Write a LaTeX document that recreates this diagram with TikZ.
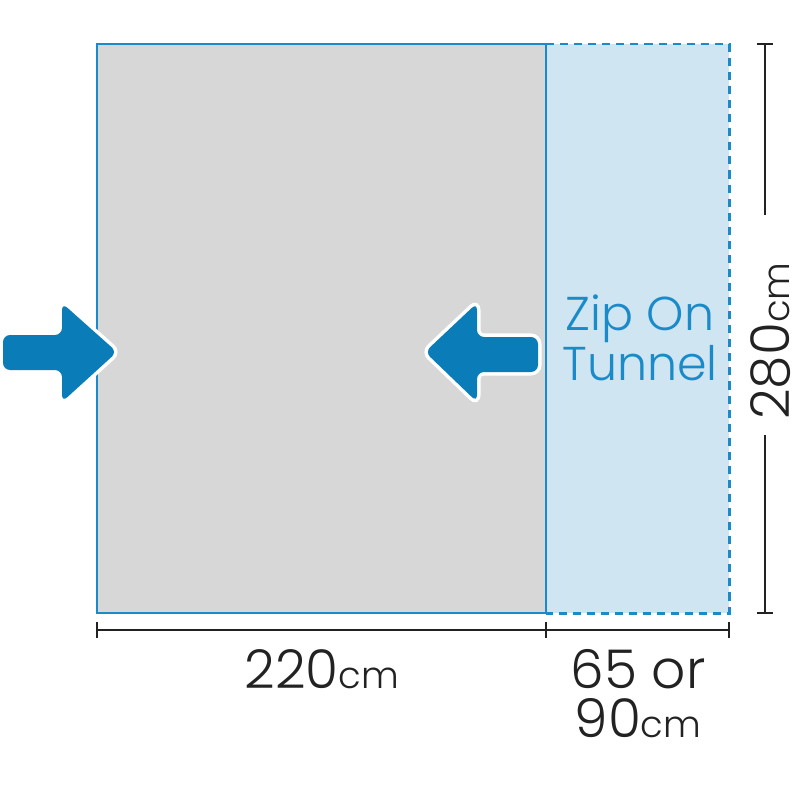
\documentclass[tikz,border=0pt]{standalone}
\usepackage{fontspec}
\IfFontExistsTF{Poppins Light}{\setmainfont{Poppins Light}}{\setmainfont{Poppins}}
\definecolor{floorgrey}{HTML}{D6D7D6}
\definecolor{tunnelfill}{HTML}{CFE5F2}
\definecolor{edgeblue}{HTML}{1A8BC8}
\definecolor{arrowblue}{HTML}{0A7DB8}
\definecolor{inkgrey}{HTML}{222222}
\newcommand{\unitcm}{{\fontsize{10.5}{10.5}\selectfont cm}}
\tikzset{
  dimline/.style={draw=inkgrey, line width=0.6pt},
  dimtext/.style={text=inkgrey, font=\fontsize{15.2}{15.2}\selectfont, inner sep=0pt},
  tuntext/.style={text=edgeblue, font=\fontsize{13.5}{13.5}\selectfont, inner sep=0pt},
  tunneledge/.style={draw=edgeblue, line width=0.85pt, dash pattern=on 2.3pt off 1.7pt},
  arrowbox/.style={fill=arrowblue, rounded corners=2pt,
    preaction={draw=white, line width=2pt, rounded corners=2pt}}
}
\begin{document}
\begin{tikzpicture}[x=0.01cm, y=-0.01cm]
  \useasboundingbox (0,0) rectangle (800,800);
  \fill[tunnelfill] (546,44) rectangle (729,613);
  \draw[tunneledge] (546,44) -- (729,44) -- (729,613) -- (546,613);
  \filldraw[fill=floorgrey, draw=edgeblue, line width=0.75pt] (97,44) rectangle (546,613);
  % arrows
  \path[arrowbox] (3,335) -- (62,335) -- (62,303) -- (117,352) -- (62,402)
    -- (62,370) -- (3,370) -- cycle;
  \path[arrowbox] (538,337) -- (477,337) -- (477,303) -- (425,352) -- (477,402)
    -- (477,372) -- (538,372) -- cycle;
  \node[tuntext, anchor=base] (zipon) at (640,330) {Zip On};
  \node[tuntext, anchor=base] (tunnel) at (640,380) {Tunnel};
  % widths
  \coordinate (b1) at (97,630);
  \coordinate (b2) at (546,630);
  \coordinate (b3) at (729,630);
  \draw[dimline] (b1) -- (b3);
  \foreach \p in {b1,b2,b3}
    \draw[dimline] ([yshift=-0.08cm]\p) -- ([yshift=0.08cm]\p);
  \node[dimtext, anchor=base] (wmain) at (322,688) {220\unitcm};
  \node[dimtext, anchor=base] (wtun) at (638,688) {65 or};
  \node[dimtext, anchor=base] (wtunb) at (638,737) {90\unitcm};
  % height
  \coordinate (r1) at (765,44);
  \coordinate (r2) at (765,613);
  \coordinate (g1) at (765,215);
  \coordinate (g2) at (765,435);
  \draw[dimline] (r1) -- (g1) (g2) -- (r2);
  \foreach \p in {r1,r2}
    \draw[dimline] ([xshift=-0.08cm]\p) -- ([xshift=0.08cm]\p);
  \node[dimtext, rotate=90, anchor=base] (hgt) at (789,341) {280\unitcm};
\end{tikzpicture}
\end{document}
